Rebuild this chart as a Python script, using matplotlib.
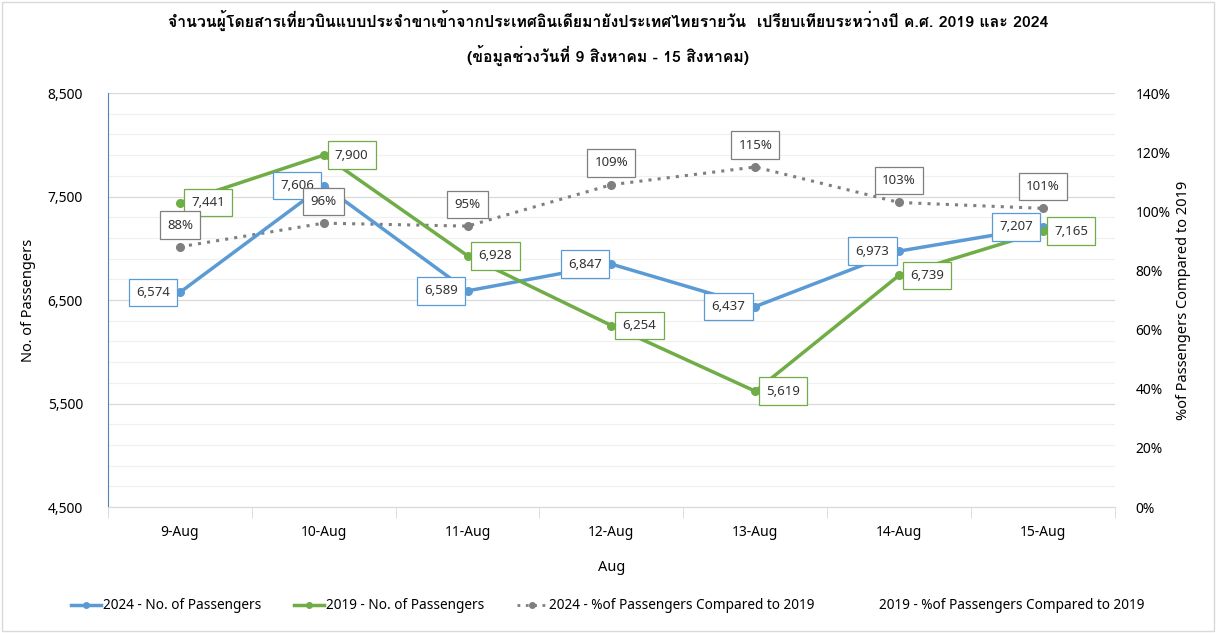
import matplotlib
matplotlib.use("Agg")
import matplotlib.pyplot as plt
import numpy as np
from matplotlib.lines import Line2D
from matplotlib.patches import Rectangle
from matplotlib.ticker import FuncFormatter, MultipleLocator, FixedLocator

plt.rcParams['font.family'] = ['Noto Sans', 'DejaVu Sans']

# data
days = ['9-Aug', '10-Aug', '11-Aug', '12-Aug', '13-Aug', '14-Aug', '15-Aug']
pax_2024 = [6574, 7606, 6589, 6847, 6437, 6973, 7207]
pax_2019 = [7441, 7900, 6928, 6254, 5619, 6739, 7165]
pct_2024 = [88, 96, 95, 109, 115, 103, 101]

title = ('จำนวนผู้โดยสารเที่ยวบินแบบประจำขาเข้าจากประเทศอินเดียมายังประเทศไทยรายวัน  '
         'เปรียบเทียบระหว่างปี ค.ศ. 2019 และ 2024\n(ข้อมูลช่วงวันที่ 9 สิงหาคม - 15 สิงหาคม)')

blue = '#5b9bd5'
green = '#70ad47'
grey = '#7f7f7f'

fig = plt.figure(figsize=(12.16, 6.33), dpi=100)
ax = fig.add_axes([0.0888, 0.199, 0.828, 0.654])
ax2 = ax.twinx()

x = np.arange(len(days))

ax2.set_ylim(0, 1.4)
ax2.yaxis.set_major_locator(MultipleLocator(0.2))
ax2.yaxis.set_major_formatter(FuncFormatter(lambda v, p: f'{v*100:.0f}%'))

# all marks go on ax (on top), the % series uses the right axis transform
ax.plot(x, np.array(pct_2024) / 100, transform=ax2.transData, color=grey, lw=2.2,
        ls=(0, (1, 2)), marker='o', ms=5.5, zorder=2)
ax.plot(x, pax_2024, color=blue, lw=2.5, marker='o', ms=5.5, zorder=3)
ax.plot(x, pax_2019, color=green, lw=2.5, marker='o', ms=5.5, zorder=3)
ax.set_zorder(ax2.get_zorder() + 1)
ax.patch.set_visible(False)

ax.set_ylim(4500, 8500)
ax.set_xlim(-0.5, len(days) - 0.5)
ax.yaxis.set_major_locator(FixedLocator(np.arange(4500, 8501, 1000)))
ax.yaxis.set_minor_locator(FixedLocator(np.arange(4500, 8501, 200)))
ax.yaxis.set_major_formatter(FuncFormatter(lambda v, p: f'{int(v):,}'))
ax.grid(axis='y', which='minor', color='#f0f0f0', lw=0.9)
ax.grid(axis='y', which='major', color='#d9d9d9', lw=0.9)
ax.set_axisbelow(True)

for a in (ax, ax2):
    for s in ('top', 'right', 'left', 'bottom'):
        a.spines[s].set_visible(False)
ax.spines['left'].set_visible(True)
ax.spines['left'].set_color('#4f81bd')
ax.spines['bottom'].set_visible(True)
ax.spines['bottom'].set_color('#d9d9d9')

ax.tick_params(axis='y', which='both', length=0, labelsize=10, pad=18)
ax2.tick_params(axis='y', which='both', length=0, labelsize=10, pad=15)
ax.set_xticks(x)
ax.set_xticklabels(days)
ax.xaxis.set_minor_locator(FixedLocator(np.arange(-0.5, len(days), 1.0)))
ax.tick_params(axis='x', which='major', length=0, labelsize=10, pad=13)
ax.tick_params(axis='x', which='minor', length=8, color='#d9d9d9')

ax.set_ylabel('No. of Passengers', fontsize=10.5, labelpad=8)
ax2.set_ylabel('%of Passengers Compared to 2019', fontsize=10.5, labelpad=4)
ax.set_xlabel('Aug', fontsize=10.5, labelpad=14)

lab_font = dict(fontsize=9.5, color='#333333', zorder=6)
for xi, v in zip(x, pax_2024):
    ax.annotate(f'{v:,}', (xi, v), xytext=(-7, 0), textcoords='offset points',
                ha='right', va='center',
                bbox=dict(boxstyle='square,pad=0.55', fc='white', ec=blue, lw=0.9),
                **lab_font)
for xi, v in zip(x, pax_2019):
    ax.annotate(f'{v:,}', (xi, v), xytext=(8, 0), textcoords='offset points',
                ha='left', va='center',
                bbox=dict(boxstyle='square,pad=0.55', fc='white', ec=green, lw=0.9),
                **lab_font)
for xi, v in zip(x, pct_2024):
    ax.annotate(f'{v}%', (xi, v / 100), xycoords=ax2.transData, xytext=(0, 11),
                textcoords='offset points', ha='center', va='bottom',
                bbox=dict(boxstyle='square,pad=0.55', fc='white', ec=grey, lw=0.9),
                **lab_font)

fig.text(0.5, 0.94, title, ha='center', va='center', fontsize=11.4,
         fontweight='bold', family=['Loma', 'Noto Sans Thai Looped', 'Noto Sans'],
         linespacing=1.85)

handles = [
    Line2D([], [], color=blue, lw=2.5, marker='o', ms=4),
    Line2D([], [], color=green, lw=2.5, marker='o', ms=4),
    Line2D([], [], color=grey, lw=2, ls=(0, (1, 2)), marker='o', ms=4),
    Line2D([], [], color='none'),
]
labels = ['2024 - No. of Passengers', '2019 - No. of Passengers',
          '2024 - %of Passengers Compared to 2019', '2019 - %of Passengers Compared to 2019']
fig.legend(handles, labels, loc='center', bbox_to_anchor=(0.5, 0.043), ncol=4,
           frameon=False, fontsize=9.8, handlelength=2.2, handletextpad=0.15,
           columnspacing=2.4)

fig.add_artist(Rectangle((0.002, 0.003), 0.996, 0.994, transform=fig.transFigure,
                         fill=False, ec='#d9d9d9', lw=1))

fig.savefig('out.png', dpi=100)
